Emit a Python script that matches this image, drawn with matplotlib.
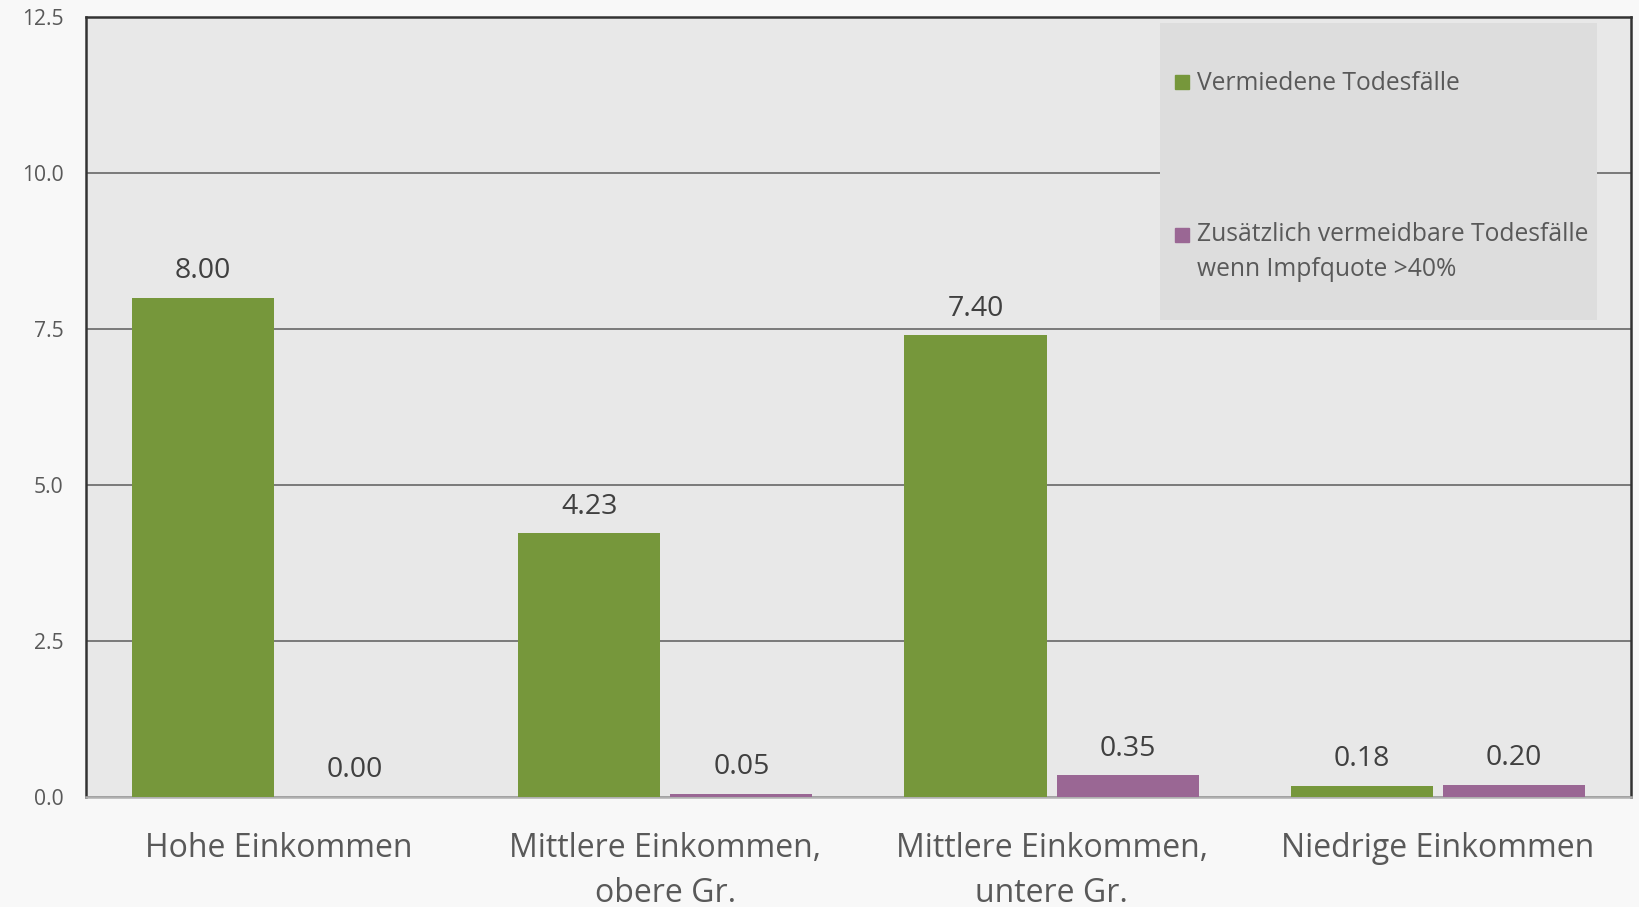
import matplotlib.pyplot as plt
from matplotlib.patches import Rectangle
from matplotlib.lines import Line2D
import numpy as np

plt.rcParams['font.family'] = ['Open Sans', 'DejaVu Sans']

categories = ['Hohe Einkommen', 'Mittlere Einkommen,\nobere Gr.',
              'Mittlere Einkommen,\nuntere Gr.', 'Niedrige Einkommen']
vermieden = [8.00, 4.23, 7.40, 0.18]
zusaetzlich = [0.00, 0.05, 0.35, 0.20]
series_names = ['Vermiedene Todesfälle',
                'Zusätzlich vermeidbare Todesfälle\nwenn Impfquote >40%']
yticks = [0.0, 2.5, 5.0, 7.5, 10.0, 12.5]

green = '#76973b'
purple = '#9a6794'
text_col = '#595959'
value_col = '#404040'

fig = plt.figure(figsize=(16.4, 9.07), dpi=100, facecolor='#f8f8f8')
ax = fig.add_axes([0.0524, 0.1213, 0.9421, 0.86])
ax.set_facecolor('#e8e8e8')

x = np.arange(len(categories))
width = 0.368
off = 0.197
b1 = ax.bar(x - off, vermieden, width, color=green, zorder=3)
b2 = ax.bar(x + off, zusaetzlich, width, color=purple, zorder=3)

for bars, vals in [(b1, vermieden), (b2, zusaetzlich)]:
    for rect, v in zip(bars, vals):
        ax.annotate(f'{v:.2f}', (rect.get_x() + rect.get_width() / 2, v),
                    xytext=(0, 9), textcoords='offset points',
                    ha='center', va='bottom', fontsize=20.5, color=value_col,
                    zorder=4)

ax.set_xlim(-0.5, 3.5)
ax.set_ylim(0, 12.5)
ax.set_yticks(yticks)
ax.set_yticklabels([f'{t:.1f}' for t in yticks])
ax.set_xticks(x)
ax.set_xticklabels(categories, fontsize=23, color=text_col, linespacing=1.5)
ax.tick_params(axis='y', labelsize=15.2, labelcolor=text_col, length=0, pad=16)
ax.tick_params(axis='x', length=0, pad=25)

ax.grid(axis='y', color='#7a7a7a', linewidth=1.4, zorder=1)
ax.set_axisbelow(True)

for side in ['top', 'left', 'right']:
    ax.spines[side].set_color('#333333')
    ax.spines[side].set_linewidth(1.8)
ax.spines['bottom'].set_color('#b0b0b0')
ax.spines['bottom'].set_linewidth(1.8)

# legend panel in the upper right
ax.add_patch(Rectangle((0.6953, 0.6115), 0.283, 0.3808, transform=ax.transAxes,
                       facecolor='#dddddd', edgecolor='none', zorder=2))
handles = [Line2D([], [], marker='s', linestyle='none', markersize=10,
                  color=c) for c in (green, purple)]
leg = ax.legend(handles, series_names, loc='upper left',
                bbox_to_anchor=(0.6975, 0.943), frameon=False, fontsize=17.7,
                labelcolor=text_col, labelspacing=5.1, handlelength=0.7,
                handletextpad=0.25, borderaxespad=0)
for t in leg.get_texts():
    t.set_linespacing(1.55)
# put the second marker next to the first line of its label
h2 = leg.legend_handles[1]
h2.set_ydata(np.asarray(h2.get_ydata()) + 12.5)
leg.set_zorder(5)

fig.savefig('out.png', dpi=100, facecolor=fig.get_facecolor())
